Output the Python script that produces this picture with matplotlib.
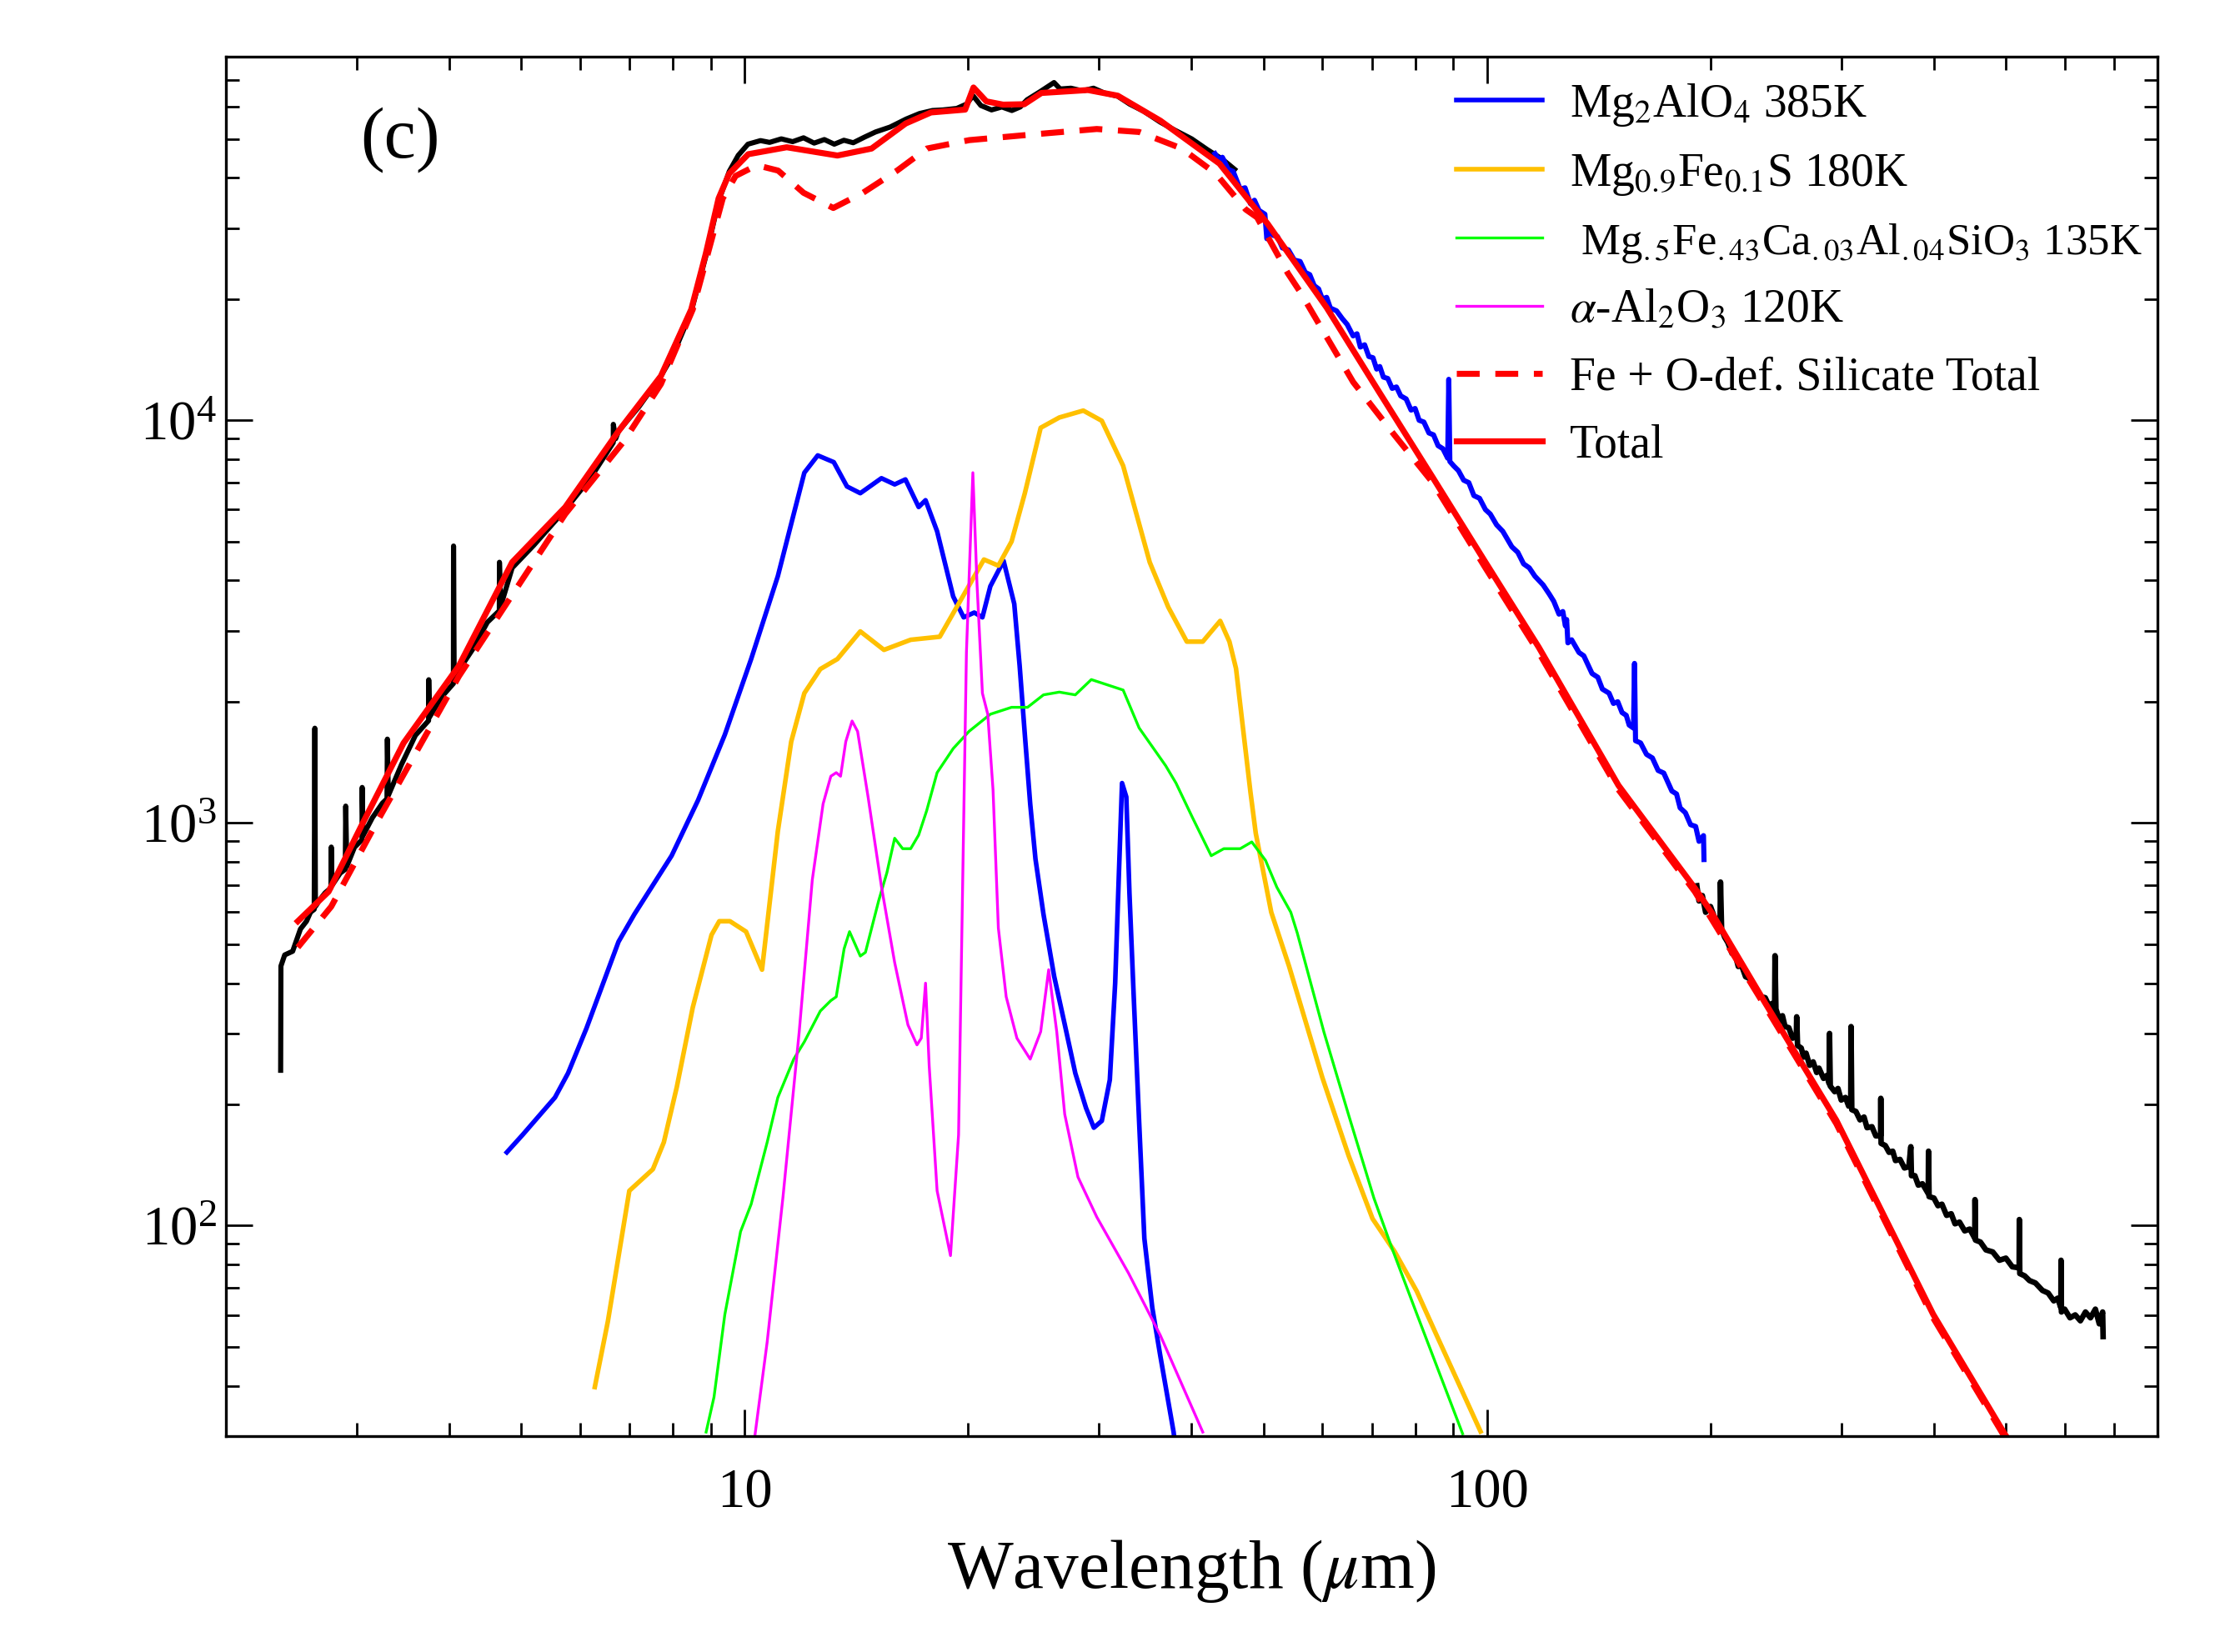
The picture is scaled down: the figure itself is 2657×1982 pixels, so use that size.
import numpy as np
import matplotlib
matplotlib.use("Agg")
import matplotlib.pyplot as plt
from matplotlib.ticker import FixedLocator, FixedFormatter, LogLocator, NullFormatter

plt.rcParams['font.family'] = ['Liberation Serif', 'DejaVu Serif']
plt.rcParams['mathtext.fontset'] = 'stix'

# observed spectrum, short-wavelength part (black)
sws_wl = [2.37, 2.372, 2.40, 2.46, 2.52, 2.568, 2.60, 2.63, 2.635, 2.64, 2.68, 2.72, 2.77, 2.773, 2.78,
          2.85, 2.896, 2.90, 2.91, 2.98, 3.05, 3.052, 3.06, 3.15, 3.25, 3.296, 3.30, 3.31, 3.45, 3.60,
          3.75, 3.752, 3.76, 3.90, 4.05, 4.052, 4.06, 4.30, 4.50, 4.67, 4.672, 4.69, 4.86, 5.2, 5.73,
          6.2, 6.65, 6.652, 6.7, 6.76, 7.2, 7.71, 8.0, 8.47, 8.86, 9.22, 9.53, 9.8, 10.1, 10.5, 10.8,
          11.2, 11.6, 12.0, 12.4, 12.8, 13.2, 13.6, 14.0, 14.5, 15.0, 15.7, 16.5, 17.2, 17.9, 18.5,
          19.3, 19.9, 20.3, 20.8, 21.5, 22.2, 22.9, 23.5, 24.0, 25.0, 26.1, 26.6, 27.5, 28.5, 29.5,
          30.5, 31.8, 33.0, 34.5, 36.3, 38.0, 40.0, 42.0, 44.0, 45.7]
sws_flux = [243, 441, 470, 480, 545, 570, 600, 610, 1719, 620, 647, 670, 690, 871, 700,
            750, 767, 1101, 780, 870, 908, 1225, 930, 1030, 1120, 1148, 1615, 1170, 1400, 1650,
            1795, 2268, 1830, 2050, 2219, 4872, 2300, 2700, 3150, 3365, 4440, 3450, 4300, 4900, 6000,
            7200, 8800, 9770, 9000, 9400, 10800, 12880, 14500, 18600, 25500, 35000, 41500, 45500, 48500, 49500, 49000,
            50000, 49200, 50300, 48800, 49800, 48500, 49600, 48900, 50500, 52000, 53500, 56000, 57800, 58800, 59000,
            59500, 61000, 64000, 60500, 59000, 60000, 58800, 60000, 62500, 65500, 69000, 66500, 66800, 65800, 66800,
            65000, 63800, 61000, 58500, 55000, 52500, 50000, 47000, 44500, 42000]

# observed spectrum, middle part (blue)
mid_wl = [43.0, 43.5, 44.0, 44.8, 45.5, 46.5, 47.2, 48.0, 48.6, 49.3, 50.2, 50.5, 51.0, 51.5, 52.2,
          53.0, 54.0, 55.0, 56.0, 56.9, 57.7, 58.5, 59.3, 60.0, 60.8, 61.5, 62.7, 63.8, 64.8, 66.0,
          66.8, 67.5, 68.4, 69.3, 70.2, 71.0, 71.7, 72.5, 73.5, 74.5, 75.5, 76.5, 77.8, 79.0, 80.0,
          81.0, 82.2, 83.5, 84.7, 85.9, 87.2, 88.5, 88.8, 89.1, 90.2, 91.5, 93.0, 94.5, 96.0, 97.7,
          99.5, 101, 103, 105, 108, 110, 112, 114, 116, 119, 121.3, 123, 125, 126.5, 127.5, 128.0,
          128.5, 130, 133, 135, 138.5, 141, 143, 146, 148, 150, 152, 154, 155.4, 157.5, 158, 158.5,
          161, 164, 167, 170, 173, 177.4, 180, 182, 185, 188, 191, 193, 195.7, 196]
mid_flux = [45950, 44500, 45000, 42000, 41500, 37500, 37800, 34500, 35200, 33200, 32500, 28250, 29500, 28800, 28600,
            26800, 26500, 25000, 24800, 23300, 23000, 21600, 21200, 20000, 20200, 19000, 18700, 17900, 17300, 16200,
            16400, 15200, 15400, 14400, 14300, 13400, 13600, 12800, 12700, 12000, 12100, 11500, 11300, 10600, 10700,
            10000, 9900, 9300, 9200, 8650, 8500, 8050, 12640, 7900, 7700, 7500, 7100, 7000, 6500, 6400,
            6000, 5850, 5500, 5300, 4850, 4700, 4400, 4300, 4100, 3900, 3700, 3550, 3300, 3350, 3085, 3200,
            2800, 2850, 2650, 2600, 2350, 2300, 2150, 2100, 1980, 2000, 1880, 1850, 1750, 1720, 2490, 1600,
            1580, 1480, 1450, 1350, 1330, 1200, 1180, 1090, 1060, 990, 980, 900, 930, 811]

# observed spectrum, long-wavelength part (black)
lws_wl = [191.7, 193, 195, 197, 200, 203, 206, 206.3, 207, 209, 211, 213.8, 216, 218, 220, 223, 226, 228,
          231, 234, 237, 240, 242, 244, 244.3, 245, 248, 250, 252, 255, 258, 261, 261.3, 262, 265, 267,
          269, 272, 275, 278, 280, 284, 287, 289, 289.3, 290, 294, 297, 300, 304, 307, 309, 309.3, 310,
          314, 318, 322, 325, 330, 334, 339, 339.2, 339.5, 344, 348, 352, 355, 360, 365, 370, 372.3, 373,
          377, 381, 386, 393, 393.3, 394, 400, 405, 410, 416, 422, 427, 433, 440, 447, 454, 454.3, 455,
          462, 470, 480, 490, 500, 510, 521, 521.3, 522, 530, 538, 548, 560, 570, 580, 587, 593, 593.3,
          594, 600, 610, 620, 630, 640, 650, 660, 668, 675, 676]
lws_flux = [698, 640, 660, 600, 620, 575, 560, 713, 545, 520, 505, 474, 470, 440, 445, 415, 410, 395,
            385, 370, 368, 350, 356, 340, 468, 345, 322, 332, 312, 310, 292, 295, 330, 280, 276, 262,
            268, 250, 255, 240, 246, 232, 236, 225, 300, 222, 215, 219, 205, 208, 198, 200, 312, 194,
            192, 183, 186, 175, 176, 167, 167, 207, 160, 158, 152, 153, 145, 146, 139, 140, 157, 133,
            133, 126, 127, 120, 153, 118, 117, 112, 113, 106, 107, 101, 102, 97, 98, 93, 116, 92,
            91, 87, 86, 82, 83, 79, 78.5, 103.5, 76, 75, 73, 72, 69, 68, 65, 66, 62.5, 82,
            61, 62, 59, 60, 58, 61, 59, 62, 57, 61, 53]

# model components
spinel_wl = [4.78, 5.02, 5.55, 5.78, 6.12, 6.76, 7.10, 7.97, 8.65, 9.40, 10.2, 11.08, 11.64, 12.03, 12.54,
             13.18, 13.73, 14.31, 15.28, 15.92, 16.46, 17.15, 17.52, 18.16, 19.09, 19.72, 20.38, 20.9,
             21.42, 22.32, 23.07, 23.46, 23.84, 24.24, 24.64, 25.26, 26.11, 26.98, 27.88, 28.82, 29.53,
             30.27, 31.03, 31.55, 31.92, 32.23, 32.66, 32.98, 33.42, 33.98, 34.54, 35.40, 36.29, 37.82, 38.1]
spinel_flux = [152, 168, 208, 239, 309, 507, 593, 829, 1138, 1656, 2553, 4100, 5850, 7410, 8180,
               7870, 6850, 6590, 7180, 6930, 7130, 6090, 6330, 5300, 3650, 3240, 3330, 3240,
               3870, 4475, 3500, 2455, 1656, 1115, 813, 593, 416, 316, 239, 196, 175,
               182, 230, 400, 752, 1256, 1160, 668, 370, 182, 92.9, 62.5, 47.5, 30.7, 27.3]

mgs_wl = [6.28, 6.54, 6.99, 7.52, 7.78, 8.10, 8.51, 9.02, 9.24, 9.55, 10.04, 10.55, 11.08, 11.55, 12.03,
          12.64, 13.33, 14.31, 15.40, 16.73, 18.31, 19.41, 21.0, 21.96, 22.88, 23.84, 25.04, 26.53, 28.58,
          30.27, 32.34, 35.12, 37.2, 39.4, 41.4, 43.7, 44.97, 45.9, 48.0, 48.8, 51.2, 54.1, 60.0, 65.1,
          70.1, 75.1, 80.4, 85.4, 98.0]
mgs_flux = [39.7, 57.8, 122, 138, 161, 221, 348, 527, 570, 570, 537, 432, 953, 1592, 2100,
            2410, 2553, 2990, 2690, 2850, 2900, 3500, 4510, 4355, 5000, 6590, 9580, 10160, 10570,
            9970, 7710, 4440, 3435, 2820, 2820, 3175, 2820, 2418, 1193, 942, 600, 441, 233, 149,
            104, 86.1, 68.7, 53.7, 30.8]

pyrox_wl = [8.87, 9.09, 9.40, 9.87, 10.2, 10.72, 11.08, 11.64, 12.03, 12.64, 13.06, 13.28, 13.61, 13.84,
            14.31, 14.54, 15.15, 15.54, 15.92, 16.32, 16.73, 17.15, 17.58, 18.16, 19.09, 20.05, 21.42,
            22.88, 24.04, 25.26, 26.53, 27.88, 29.3, 32.34, 33.98, 36.9, 38.1, 40.1, 42.5, 44.2, 46.5,
            48.2, 50.3, 52.1, 54.4, 55.5, 60.3, 65.1, 70.4, 74.4, 80.4, 92.7]
pyrox_flux = [30.7, 37.5, 60.1, 96.6, 113, 161, 208, 259, 286, 341, 362, 370, 487, 537,
              467, 477, 641, 752, 916, 863, 863, 933, 1072, 1333, 1530, 1688, 1862,
              1937, 1937, 2080, 2113, 2080, 2270, 2138, 1722, 1387, 1256, 1031, 829, 863, 863,
              897, 807, 692, 600, 533, 302, 188, 117, 88.2, 60.4, 30.4]

alumina_wl = [10.32, 10.72, 11.26, 11.84, 12.33, 12.75, 13.06, 13.28, 13.46, 13.68, 13.95, 14.19, 14.66,
              15.28, 15.92, 16.59, 17.06, 17.29, 17.52, 17.72, 18.16, 18.93, 19.41, 19.89, 20.29, 20.55,
              20.9, 21.25, 21.6, 21.96, 22.5, 23.26, 24.24, 25.04, 25.67, 26.32, 26.98, 28.11, 29.8,
              32.88, 36.29, 41.4]
alumina_flux = [30.1, 51.4, 118, 303, 722, 1115, 1306, 1333, 1306, 1592, 1791, 1688, 1160,
                695, 450, 315, 281, 292, 400, 249, 122, 84.2, 168, 2655, 7410, 3945,
                2100, 1862, 1208, 548, 370, 292, 259, 303, 432, 303, 189, 132, 105,
                76.2, 53.4, 30.7]

silicate_wl = [2.50, 2.773, 3.18, 4.12, 5.73, 6.87, 7.71, 8.51, 9.34, 9.72, 10.38, 11.09, 12.0, 13.16,
               14.43, 16.04, 17.59, 20.07, 24.45, 29.8, 34.0, 38.8, 43.1, 47.3, 49.0, 53.9, 56.0, 66.0,
               75.0, 84.5, 99.5, 117.4, 150.3, 190.5, 237, 295.5, 399, 499, 520]
silicate_flux = [491, 620, 990, 2314, 5850, 8860, 12300, 18850, 35570, 40440, 43000, 41700, 36730, 33670,
                 36730, 41700, 47300, 49640, 51280, 52900, 52000, 47300, 41000, 33390, 31900, 23190, 20840, 12450,
                 9200, 7000, 4300, 2650, 1210, 675, 350, 179, 59, 29.7, 27]

total_wl = [2.50, 2.75, 3.05, 3.47, 4.12, 4.86, 5.73, 6.76, 7.71, 8.47, 8.86, 9.22, 9.53, 10.11, 11.39,
            13.33, 14.82, 16.47, 17.82, 19.81, 20.33, 21.16, 22.29, 23.8, 25.1, 29.0, 31.8, 36.3, 43.6,
            50.6, 60.8, 71.6, 84.5, 99.5, 117.4, 150.3, 190.5, 200.8, 237, 295.5, 399, 499, 520]
total_flux = [570, 675, 990, 1579, 2455, 4440, 6085, 9400, 12880, 18850, 25900, 35570, 41000, 45800, 47650,
              45450, 47300, 54580, 58150, 59100, 67070, 61950, 60800, 60950, 65000, 66100, 64000, 55470, 43400,
              30800, 19050, 11730, 7210, 4440, 2730, 1240, 689, 598, 357, 182.5, 60.2, 30.2, 27]

fig = plt.figure(figsize=(13.285, 9.91), dpi=200)
ax = fig.add_axes([0.102, 0.1307, 0.872, 0.835])

ax.plot(sws_wl, sws_flux, color='black', lw=2.2)
ax.plot(mid_wl, mid_flux, color='#0000ff', lw=2.2)
ax.plot(lws_wl, lws_flux, color='black', lw=2.4)

ax.plot(spinel_wl, spinel_flux, color='#0000ff', lw=2.0, label=r'Mg$_2$AlO$_4$ 385K')
ax.plot(mgs_wl, mgs_flux, color='#ffc000', lw=2.0, label=r'Mg$_{0.9}$Fe$_{0.1}$S 180K')
ax.plot(pyrox_wl, pyrox_flux, color='#00ff00', lw=1.2,
        label=r' Mg$_{.5}$Fe$_{.43}$Ca$_{.03}$Al$_{.04}$SiO$_3$ 135K')
ax.plot(alumina_wl, alumina_flux, color='#ff00ff', lw=1.2, label=r'$\alpha$-Al$_2$O$_3$ 120K')
ax.plot(silicate_wl, silicate_flux, color='#ff0000', lw=2.6, ls=(0, (3.8, 2.6)),
        label='Fe + O-def. Silicate Total')
ax.plot(total_wl, total_flux, color='#ff0000', lw=2.6, label='Total')

ax.set_xscale('log')
ax.set_yscale('log')
ax.set_xlim(2.0, 800)
ax.set_ylim(30, 8e4)

ax.xaxis.set_major_locator(FixedLocator([10, 100]))
ax.xaxis.set_major_formatter(FixedFormatter(['10', '100']))
ax.xaxis.set_minor_locator(LogLocator(base=10, subs=np.arange(2, 10), numticks=20))
ax.xaxis.set_minor_formatter(NullFormatter())
ax.yaxis.set_minor_locator(LogLocator(base=10, subs=np.arange(2, 10), numticks=20))
ax.yaxis.set_minor_formatter(NullFormatter())

ax.tick_params(which='both', direction='in', top=True, right=True, width=1.0)
ax.tick_params(which='major', length=11.5, labelsize=24)
ax.tick_params(axis='x', which='major', pad=14)
ax.tick_params(axis='y', which='major', pad=4)
ax.tick_params(which='minor', length=5.8)
for sp in ax.spines.values():
    sp.set_linewidth(1.2)

ax.set_xlabel(r'Wavelength ($\mu$m)', fontsize=30, labelpad=8)
ax.text(0.090, 0.940, '(c)', transform=ax.transAxes, fontsize=31, ha='center', va='center')

leg = ax.legend(loc='upper left', bbox_to_anchor=(0.637, 0.982), frameon=False, fontsize=20,
                handlelength=1.85, handletextpad=0.6, labelspacing=0.52, borderpad=0, borderaxespad=0)
leg.get_texts()[2].set_fontsize(19)

fig.savefig('out.png', dpi=200)
